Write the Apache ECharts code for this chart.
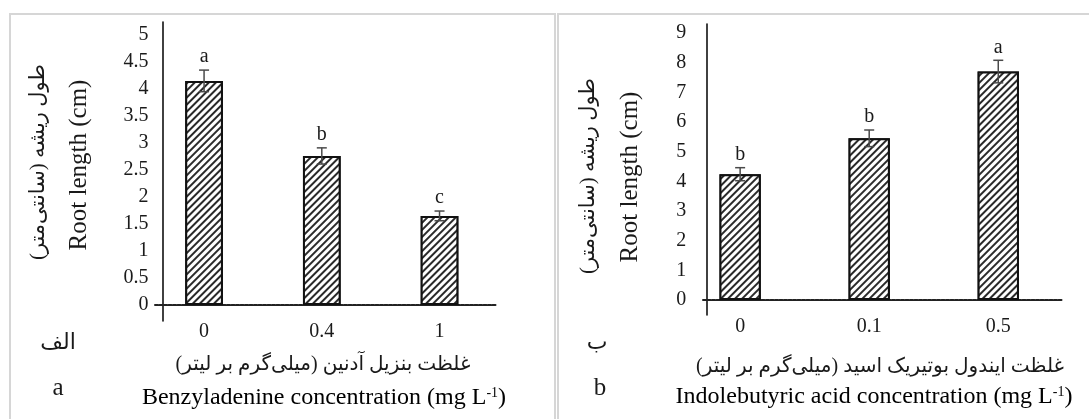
<!DOCTYPE html>
<html>
<head>
<meta charset="utf-8">
<script src="https://cdn.jsdelivr.net/npm/echarts@6/dist/echarts.min.js"></script>
<style>
  html, body { margin: 0; padding: 0; background: #fff; }
  #chart { width: 1089px; height: 419px; }
</style>
</head>
<body>
<div id="chart"></div>
<script>
// ---- Data ----
const baCategories = ['0', '0.4', '1'];
const baValues = [4.15, 2.76, 1.65];
const baErrors = [0.20, 0.15, 0.09];
const baLetters = ['a', 'b', 'c'];

const ibaCategories = ['0', '0.1', '0.5'];
const ibaValues = [4.24, 5.45, 7.70];
const ibaErrors = [0.22, 0.28, 0.38];
const ibaLetters = ['b', 'b', 'a'];

const baYTicks = { min: 0, max: 5, interval: 0.5 };
const ibaYTicks = { min: 0, max: 9, interval: 1 };

// ---- Texts ----
const RLM = '\u200F';
const ZWNJ = '\u200C';
const baYTitleFa = 'طول ریشه (سانتی' + ZWNJ + 'متر)' + RLM;
const ibaYTitleFa = 'طول ریشه (سانتی' + ZWNJ + 'متر)' + RLM;
const yTitleEn = 'Root length (cm)';
const baXTitleFa = 'غلظت بنزیل آدنین (میلی' + ZWNJ + 'گرم بر لیتر)' + RLM;
const ibaXTitleFa = 'غلظت ایندول بوتیریک اسید (میلی' + ZWNJ + 'گرم بر لیتر)' + RLM;
const baXTitleEn = 'Benzyladenine concentration (mg L';
const ibaXTitleEn = 'Indolebutyric acid concentration (mg L';
const panelFa = ['الف', 'ب'];
const panelEn = ['a', 'b'];

const SERIF = '"Liberation Serif", "Times New Roman", "DejaVu Sans", serif';
const FA = '"Liberation Serif", "DejaVu Sans", "Noto Sans", sans-serif';
const INK = '#1a1a1a';

const chart = echarts.init(document.getElementById('chart'), null, { renderer: 'canvas' });

function errorSeries(values, errors, letters, xIdx, yIdx) {
  return {
    type: 'custom',
    xAxisIndex: xIdx,
    yAxisIndex: yIdx,
    z: 5,
    data: values.map((v, i) => [i, v, errors[i]]),
    renderItem: function (params, api) {
      const i = api.value(0), v = api.value(1), e = api.value(2);
      const top = api.coord([i, v + e]);
      const bot = api.coord([i, v - e]);
      const hw = 5;
      const st = { stroke: '#4a4a4a', lineWidth: 1.5 };
      return {
        type: 'group',
        children: [
          { type: 'line', shape: { x1: top[0], y1: top[1], x2: bot[0], y2: bot[1] }, style: st },
          { type: 'line', shape: { x1: top[0] - hw, y1: top[1], x2: top[0] + hw, y2: top[1] }, style: st },
          { type: 'line', shape: { x1: bot[0] - hw, y1: bot[1], x2: bot[0] + hw, y2: bot[1] }, style: st },
          { type: 'text', x: top[0], y: top[1] - 3,
            style: { text: letters[params.dataIndex], fill: INK, font: '20px ' + SERIF,
                     textAlign: 'center', textVerticalAlign: 'bottom' } }
        ]
      };
    }
  };
}

const hatch = {
  symbol: 'rect',
  symbolSize: 1,
  dashArrayX: [1, 0],
  dashArrayY: [1.5, 2.6],
  rotation: -Math.PI / 4,
  color: '#2a2a2a',
  backgroundColor: '#ffffff'
};

function barSeries(values, xIdx, yIdx) {
  return {
    type: 'bar',
    xAxisIndex: xIdx,
    yAxisIndex: yIdx,
    data: values,
    barWidth: '32%',
    z: 2,
    itemStyle: { color: '#ffffff', borderColor: '#111', borderWidth: 2, decal: hatch },
    emphasis: { disabled: true }
  };
}

function lineAxes(xOffset, yOffset) {
  return {
    x: { type: 'value', min: 0, max: 1, offset: xOffset, position: 'bottom',
         axisLine: { show: true, onZero: false, lineStyle: { color: '#222', width: 2, type: [3, 1.5] } },
         axisTick: { show: false }, axisLabel: { show: false }, splitLine: { show: false } },
    y: { type: 'value', min: 0, max: 1, offset: yOffset, position: 'left',
         axisLine: { show: true, onZero: false, lineStyle: { color: '#111', width: 1.6 } },
         axisTick: { show: false }, axisLabel: { show: false }, splitLine: { show: false } }
  };
}

const L1 = lineAxes(-16, -7.5);
const L2 = lineAxes(-15, -3.3);

function txt(x, y, text, size, font, rot) {
  return {
    type: 'text', x: x, y: y, rotation: rot || 0, z: 10,
    style: { text: text, fill: INK, font: size + 'px ' + font, textAlign: 'center', textVerticalAlign: 'middle' }
  };
}
function supTxt(x, y, text) {
  return {
    type: 'text', x: x, y: y, z: 10,
    style: {
      text: '{n|' + text + '}{s|-1}{n|)}',
      textAlign: 'center', textVerticalAlign: 'middle',
      rich: {
        n: { fontSize: 24, fontFamily: SERIF, color: INK },
        s: { fontSize: 14, fontFamily: SERIF, color: INK, verticalAlign: 'top', padding: [0, 0, 10, 0] }
      }
    }
  };
}

const option = {
  animation: false,
  backgroundColor: '#ffffff',
  grid: [
    { left: 145.2, top: 35, width: 353.2, height: 270 },
    { left: 155, top: 22, width: 342, height: 299 },
    { left: 675.6, top: 33, width: 387.2, height: 267 },
    { left: 703, top: 24, width: 359, height: 291 }
  ],
  xAxis: [
    { gridIndex: 0, type: 'category', data: baCategories,
      axisLine: { show: false }, axisTick: { show: false },
      axisLabel: { margin: 17, fontSize: 20, fontFamily: SERIF, color: INK } },
    Object.assign({ gridIndex: 1 }, L1.x),
    { gridIndex: 2, type: 'category', data: ibaCategories,
      axisLine: { show: false }, axisTick: { show: false },
      axisLabel: { margin: 17, fontSize: 20, fontFamily: SERIF, color: INK } },
    Object.assign({ gridIndex: 3 }, L2.x)
  ],
  yAxis: [
    { gridIndex: 0, type: 'value', min: baYTicks.min, max: baYTicks.max, interval: baYTicks.interval,
      offset: -17.3,
      axisLine: { show: false }, axisTick: { show: false }, splitLine: { show: false },
      axisLabel: { margin: 14, fontSize: 20, fontFamily: SERIF, color: INK } },
    Object.assign({ gridIndex: 1 }, L1.y),
    { gridIndex: 2, type: 'value', min: ibaYTicks.min, max: ibaYTicks.max, interval: ibaYTicks.interval,
      offset: -30.7,
      axisLine: { show: false }, axisTick: { show: false }, splitLine: { show: false },
      axisLabel: { margin: 20, fontSize: 20, fontFamily: SERIF, color: INK } },
    Object.assign({ gridIndex: 3 }, L2.y)
  ],
  series: [
    barSeries(baValues, 0, 0),
    errorSeries(baValues, baErrors, baLetters, 0, 0),
    barSeries(ibaValues, 2, 2),
    errorSeries(ibaValues, ibaErrors, ibaLetters, 2, 2)
  ],
  graphic: [
    { type: 'rect', shape: { x: 10, y: 14, width: 545, height: 420 }, z: 0,
      style: { fill: 'none', stroke: '#d6d6d6', lineWidth: 2 } },
    { type: 'rect', shape: { x: 558, y: 14, width: 545, height: 420 }, z: 0,
      style: { fill: 'none', stroke: '#d6d6d6', lineWidth: 2 } },
    // left panel titles
    txt(38, 162, baYTitleFa, 21, FA, Math.PI / 2),
    txt(79, 165, yTitleEn, 25, SERIF, Math.PI / 2),
    txt(323, 365, baXTitleFa, 20, FA),
    supTxt(324, 398, baXTitleEn),
    txt(58, 343, panelFa[0], 22, FA),
    txt(58, 388, panelEn[0], 25, SERIF),
    // right panel titles
    txt(588, 176, ibaYTitleFa, 21, FA, Math.PI / 2),
    txt(630, 177, yTitleEn, 25, SERIF, Math.PI / 2),
    txt(880, 367, ibaXTitleFa, 20, FA),
    supTxt(874, 397, ibaXTitleEn),
    txt(597, 343, panelFa[1], 22, FA),
    txt(600, 388, panelEn[1], 25, SERIF)
  ]
};

chart.setOption(option);
</script>
</body>
</html>
